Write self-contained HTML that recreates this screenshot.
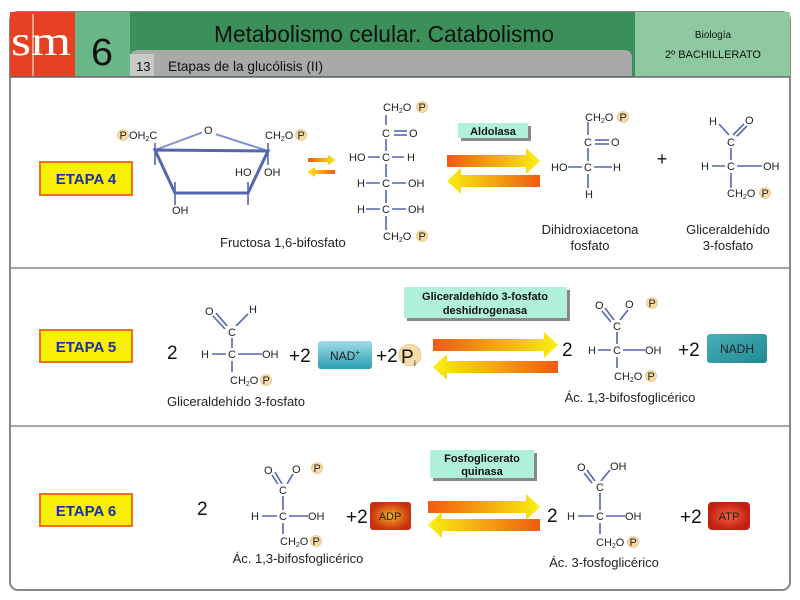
<!DOCTYPE html>
<html><head><meta charset="utf-8"><style>
html,body{margin:0;padding:0;background:#fff;}
svg{display:block;}
text{font-family:"Liberation Sans",sans-serif;}
.m{font-size:11px;fill:#222;}
.l{font-size:13px;fill:#222;}
.b{stroke:#5565b0;stroke-width:1.6;fill:none;}
.pc{fill:#f6dca8;stroke:#e0b870;stroke-width:.6;}
.n{font-size:19px;fill:#111;}
.et{font-size:15px;font-weight:bold;fill:#1a2fa8;}
.en{font-size:11px;font-weight:bold;fill:#111;}
</style></head><body>
<svg width="800" height="600" viewBox="0 0 800 600" xmlns="http://www.w3.org/2000/svg">
<defs>
<linearGradient id="ar" x1="0" x2="1"><stop offset="0" stop-color="#f05a10"/><stop offset="1" stop-color="#f8f010"/></linearGradient>
<linearGradient id="al" x1="0" x2="1"><stop offset="0" stop-color="#f8f010"/><stop offset="1" stop-color="#f05a10"/></linearGradient>
<linearGradient id="tl" x1="0" y1="0" x2="0" y2="1"><stop offset="0" stop-color="#9fdcea"/><stop offset="1" stop-color="#2b9fb0"/></linearGradient>
<linearGradient id="tl2" x1="0" y1="0" x2="1" y2="1"><stop offset="0" stop-color="#4ab0b8"/><stop offset="1" stop-color="#1e8890"/></linearGradient>
<radialGradient id="adp"><stop offset="0" stop-color="#f8b020"/><stop offset="1" stop-color="#c83010"/></radialGradient>
<radialGradient id="atp"><stop offset="0" stop-color="#f06040"/><stop offset="1" stop-color="#c02010"/></radialGradient>
</defs>
<!-- frame -->
<rect x="10" y="12" width="780" height="578" rx="8" fill="#fff" stroke="#888" stroke-width="2"/>
<rect x="10" y="12" width="780" height="65" fill="#3a9058"/>
<rect x="10" y="12" width="65" height="65" fill="#e84022"/>
<line x1="33" y1="14" x2="33" y2="76" stroke="#fff" stroke-width="1"/>
<text x="11" y="55" style="font-family:'Liberation Serif',serif;font-size:42px" fill="#fff" textLength="60" lengthAdjust="spacingAndGlyphs">sm</text>
<rect x="75" y="12" width="55" height="65" fill="#6ab88a"/>
<text x="91" y="65" style="font-size:38px" fill="#111" textLength="22" lengthAdjust="spacingAndGlyphs">6</text>
<rect x="635" y="12" width="155" height="65" fill="#8ec9a2"/>
<text x="713" y="38" text-anchor="middle" font-size="10" fill="#111">Biología</text>
<text x="713" y="58" text-anchor="middle" font-size="11" fill="#111">2º BACHILLERATO</text>
<text x="214" y="42" style="font-size:23px" fill="#111" textLength="340" lengthAdjust="spacingAndGlyphs">Metabolismo celular. Catabolismo</text>
<path d="M130,76 L130,58 Q130,50 138,50 L624,50 Q632,50 632,58 L632,76 Z" fill="#a8aaa8"/>
<rect x="130" y="54" width="24" height="22" fill="#c8cac8"/>
<text x="136" y="71" font-size="13" fill="#111">13</text>
<text x="168" y="71" style="font-size:14px" fill="#111" textLength="155" lengthAdjust="spacingAndGlyphs">Etapas de la glucólisis (II)</text>
<line x1="10" y1="77" x2="790" y2="77" stroke="#666" stroke-width="1.5"/>
<line x1="10" y1="268" x2="790" y2="268" stroke="#888" stroke-width="1.5"/>
<line x1="10" y1="426" x2="790" y2="426" stroke="#888" stroke-width="1.5"/>

<!-- ETAPA boxes -->
<rect x="40" y="162" width="92" height="33" fill="#f8f000" stroke="#f07020" stroke-width="2"/>
<text x="86" y="184" text-anchor="middle" class="et">ETAPA 4</text>
<rect x="40" y="330" width="92" height="32" fill="#f8f000" stroke="#f07020" stroke-width="2"/>
<text x="86" y="352" text-anchor="middle" class="et">ETAPA 5</text>
<rect x="40" y="494" width="92" height="32" fill="#f8f000" stroke="#f07020" stroke-width="2"/>
<text x="86" y="516" text-anchor="middle" class="et">ETAPA 6</text>

<!-- Etapa 4 furanose -->
<polygon points="155,150 206,131 268,151 248,193 175,193" fill="none" stroke="#8090d0" stroke-width="2"/>
<polygon points="155,150 175,193 248,193 268,151" fill="none" stroke="#5565b0" stroke-width="3"/>
<line x1="155" y1="143" x2="155" y2="165" class="b"/>
<line x1="268" y1="143" x2="268" y2="165" class="b"/>
<line x1="175" y1="182" x2="175" y2="205" class="b"/>
<line x1="248" y1="182" x2="248" y2="205" class="b"/>
<rect x="202" y="124" width="14" height="12" fill="#fff"/>
<text x="204" y="134" class="m">O</text>
<circle cx="123" cy="135" r="5.5" class="pc"/><text x="119.5" y="139" class="m" font-size="9">P</text>
<text x="129" y="139" class="m">OH<tspan font-size="7" dy="2">2</tspan><tspan dy="-2">C</tspan></text>
<text x="265" y="139" class="m">CH<tspan font-size="7" dy="2">2</tspan><tspan dy="-2">O</tspan></text>
<circle cx="301" cy="135" r="5.5" class="pc"/><text x="297.5" y="139" class="m" font-size="9">P</text>
<text x="235" y="176" class="m">HO</text>
<text x="264" y="176" class="m">OH</text>
<text x="172" y="214" class="m">OH</text>
<text x="220" y="247" class="l">Fructosa 1,6-bifosfato</text>
<!-- small arrows -->
<polygon points="308,158 328,158 328,155 336,160 328,165 328,162 308,162" fill="url(#ar)"/>
<polygon points="335,170 315,170 315,167 307,172 315,177 315,174 335,174" fill="url(#al)"/>
<!-- fischer -->
<g>
<line x1="386" y1="113" x2="386" y2="232" class="b"/>
<line x1="394" y1="131" x2="407" y2="131" class="b"/><line x1="394" y1="135" x2="407" y2="135" class="b"/>
<line x1="368" y1="157" x2="404" y2="157" class="b"/>
<line x1="366" y1="183" x2="406" y2="183" class="b"/>
<line x1="366" y1="209" x2="406" y2="209" class="b"/>
<rect x="380" y="125" width="12" height="14" fill="#fff"/><text x="382" y="137" class="m">C</text>
<rect x="380" y="151" width="12" height="13" fill="#fff"/><text x="382" y="161" class="m">C</text>
<rect x="380" y="177" width="12" height="13" fill="#fff"/><text x="382" y="187" class="m">C</text>
<rect x="380" y="203" width="12" height="13" fill="#fff"/><text x="382" y="213" class="m">C</text>
<rect x="380" y="101" width="32" height="14" fill="#fff"/>
<text x="383" y="111" class="m">CH<tspan font-size="7" dy="2">2</tspan><tspan dy="-2">O</tspan></text><circle cx="422" cy="107" r="5.5" class="pc"/><text x="418.5" y="111" class="m" font-size="9">P</text>
<text x="409" y="137" class="m">O</text>
<text x="349" y="161" class="m">HO</text><text x="407" y="161" class="m">H</text>
<text x="357" y="187" class="m">H</text><text x="408" y="187" class="m">OH</text>
<text x="357" y="213" class="m">H</text><text x="408" y="213" class="m">OH</text>
<rect x="380" y="230" width="32" height="14" fill="#fff"/>
<text x="383" y="240" class="m">CH<tspan font-size="7" dy="2">2</tspan><tspan dy="-2">O</tspan></text><circle cx="422" cy="236" r="5.5" class="pc"/><text x="418.5" y="240" class="m" font-size="9">P</text>
</g>
<!-- aldolasa -->
<rect x="461" y="126" width="70" height="15" fill="#888"/>
<rect x="458" y="123" width="70" height="15" fill="#b0f0dc"/>
<text x="493" y="135" text-anchor="middle" class="en">Aldolasa</text>
<polygon points="447,155 526,155 526,148 540,161 526,174 526,167 447,167" fill="url(#ar)"/>
<polygon points="540,175 461,175 461,168 447,181 461,194 461,187 540,187" fill="url(#al)"/>
<!-- DHAP -->
<line x1="588" y1="122" x2="588" y2="188" class="b"/>
<line x1="595" y1="140" x2="609" y2="140" class="b"/><line x1="595" y1="144" x2="609" y2="144" class="b"/>
<line x1="568" y1="167" x2="612" y2="167" class="b"/>
<rect x="582" y="135" width="12" height="13" fill="#fff"/><text x="584" y="146" class="m">C</text>
<rect x="582" y="161" width="12" height="13" fill="#fff"/><text x="584" y="171" class="m">C</text>
<text x="585" y="121" class="m">CH<tspan font-size="7" dy="2">2</tspan><tspan dy="-2">O</tspan></text><circle cx="623" cy="117" r="5.5" class="pc"/><text x="619.5" y="121" class="m" font-size="9">P</text>
<text x="611" y="146" class="m">O</text>
<text x="551" y="171" class="m">HO</text><text x="613" y="171" class="m">H</text>
<text x="585" y="198" class="m">H</text>
<text x="590" y="234" text-anchor="middle" class="l">Dihidroxiacetona</text>
<text x="590" y="250" text-anchor="middle" class="l">fosfato</text>
<text x="662" y="165" text-anchor="middle" font-size="18" fill="#111">+</text>
<!-- G3P -->
<line x1="719" y1="124" x2="729" y2="135" class="b" stroke-width="3"/>
<line x1="733" y1="135" x2="744" y2="124" class="b"/><line x1="736" y1="137" x2="747" y2="126" class="b"/>
<line x1="731" y1="145" x2="731" y2="188" class="b"/>
<line x1="712" y1="166" x2="762" y2="166" class="b"/>
<text x="709" y="125" class="m">H</text><text x="745" y="124" class="m">O</text>
<rect x="725" y="136" width="12" height="12" fill="#fff"/><text x="727" y="146" class="m">C</text>
<rect x="725" y="160" width="12" height="13" fill="#fff"/><text x="727" y="170" class="m">C</text>
<text x="701" y="170" class="m">H</text><text x="763" y="170" class="m">OH</text>
<text x="727" y="197" class="m">CH<tspan font-size="7" dy="2">2</tspan><tspan dy="-2">O</tspan></text><circle cx="765" cy="193" r="5.5" class="pc"/><text x="761.5" y="197" class="m" font-size="9">P</text>
<text x="728" y="234" text-anchor="middle" class="l">Gliceraldehído</text>
<text x="728" y="250" text-anchor="middle" class="l">3-fosfato</text>

<!-- ETAPA 5 -->
<text x="167" y="359" class="n">2</text>
<line x1="216" y1="313" x2="228" y2="327" class="b"/><line x1="213" y1="316" x2="225" y2="329" class="b"/>
<line x1="236" y1="326" x2="248" y2="314" class="b" stroke-width="3"/>
<line x1="232" y1="338" x2="232" y2="372" class="b"/>
<line x1="212" y1="354" x2="262" y2="354" class="b"/>
<text x="205" y="315" class="m">O</text><text x="249" y="313" class="m">H</text>
<rect x="226" y="326" width="12" height="12" fill="#fff"/><text x="228" y="336" class="m">C</text>
<rect x="226" y="348" width="12" height="13" fill="#fff"/><text x="228" y="358" class="m">C</text>
<text x="201" y="358" class="m">H</text><text x="262" y="358" class="m">OH</text>
<text x="230" y="384" class="m">CH<tspan font-size="7" dy="2">2</tspan><tspan dy="-2">O</tspan></text><circle cx="266" cy="380" r="5.5" class="pc"/><text x="262.5" y="384" class="m" font-size="9">P</text>
<text x="167" y="406" class="l">Gliceraldehído 3-fosfato</text>
<text x="289" y="362" class="n">+2</text>
<rect x="318" y="341" width="54" height="28" rx="3" fill="url(#tl)"/>
<text x="345" y="360" text-anchor="middle" font-size="12" fill="#222">NAD<tspan font-size="8" dy="-5">+</tspan></text>
<text x="376" y="362" class="n">+2</text>
<circle cx="410" cy="355" r="11" class="pc"/><text x="401" y="363" class="n">P</text><text x="414" y="366" font-size="8" fill="#111">i</text>
<rect x="407" y="290" width="163" height="31" fill="#888"/>
<rect x="404" y="287" width="163" height="31" fill="#b0f0dc"/>
<text x="485" y="300" text-anchor="middle" class="en">Gliceraldehído 3-fosfato</text>
<text x="485" y="314" text-anchor="middle" class="en">deshidrogenasa</text>
<polygon points="433,339 544,339 544,332 558,345 544,358 544,351 433,351" fill="url(#ar)"/>
<polygon points="558,361 447,361 447,354 433,367 447,380 447,373 558,373" fill="url(#al)"/>
<text x="562" y="356" class="n">2</text>
<line x1="605" y1="308" x2="614" y2="320" class="b"/><line x1="602" y1="311" x2="611" y2="322" class="b"/>
<line x1="620" y1="320" x2="628" y2="310" class="b"/>
<line x1="617" y1="332" x2="617" y2="368" class="b"/>
<line x1="598" y1="350" x2="645" y2="350" class="b"/>
<text x="595" y="309" class="m">O</text><text x="625" y="308" class="m">O</text><circle cx="652" cy="303" r="5.5" class="pc"/><text x="648.5" y="307" class="m" font-size="9">P</text>
<rect x="611" y="320" width="12" height="12" fill="#fff"/><text x="613" y="330" class="m">C</text>
<rect x="611" y="344" width="12" height="13" fill="#fff"/><text x="613" y="354" class="m">C</text>
<text x="588" y="354" class="m">H</text><text x="645" y="354" class="m">OH</text>
<text x="614" y="380" class="m">CH<tspan font-size="7" dy="2">2</tspan><tspan dy="-2">O</tspan></text><circle cx="651" cy="376" r="5.5" class="pc"/><text x="647.5" y="380" class="m" font-size="9">P</text>
<text x="630" y="402" text-anchor="middle" class="l">Ác. 1,3-bifosfoglicérico</text>
<text x="678" y="356" class="n">+2</text>
<rect x="707" y="334" width="60" height="29" rx="3" fill="url(#tl2)"/>
<text x="737" y="353" text-anchor="middle" font-size="12" fill="#222">NADH</text>

<!-- ETAPA 6 -->
<text x="197" y="515" class="n">2</text>
<line x1="275" y1="472" x2="282" y2="484" class="b"/><line x1="272" y1="475" x2="279" y2="486" class="b"/>
<line x1="287" y1="484" x2="293" y2="474" class="b"/>
<line x1="283" y1="496" x2="283" y2="534" class="b"/>
<line x1="262" y1="516" x2="308" y2="516" class="b"/>
<text x="264" y="474" class="m">O</text><text x="292" y="473" class="m">O</text><circle cx="317" cy="468" r="5.5" class="pc"/><text x="313.5" y="472" class="m" font-size="9">P</text>
<rect x="277" y="484" width="12" height="12" fill="#fff"/><text x="279" y="494" class="m">C</text>
<rect x="277" y="510" width="12" height="13" fill="#fff"/><text x="279" y="520" class="m">C</text>
<text x="251" y="520" class="m">H</text><text x="308" y="520" class="m">OH</text>
<text x="280" y="545" class="m">CH<tspan font-size="7" dy="2">2</tspan><tspan dy="-2">O</tspan></text><circle cx="316" cy="541" r="5.5" class="pc"/><text x="312.5" y="545" class="m" font-size="9">P</text>
<text x="298" y="563" text-anchor="middle" class="l">Ác. 1,3-bifosfoglicérico</text>
<rect x="370" y="502" width="41" height="28" rx="3" fill="url(#adp)"/>
<text x="390" y="520" text-anchor="middle" font-size="11" fill="#222">ADP</text>
<text x="346" y="523" class="n">+2</text>
<rect x="433" y="453" width="104" height="28" fill="#888"/>
<rect x="430" y="450" width="104" height="28" fill="#b0f0dc"/>
<text x="482" y="462" text-anchor="middle" class="en">Fosfoglicerato</text>
<text x="482" y="475" text-anchor="middle" class="en">quinasa</text>
<polygon points="428,501 526,501 526,494 540,507 526,520 526,513 428,513" fill="url(#ar)"/>
<polygon points="540,519 442,519 442,512 428,525 442,538 442,531 540,531" fill="url(#al)"/>
<text x="547" y="522" class="n">2</text>
<line x1="587" y1="470" x2="595" y2="481" class="b"/><line x1="584" y1="473" x2="592" y2="483" class="b"/>
<line x1="601" y1="481" x2="610" y2="470" class="b"/>
<line x1="600" y1="493" x2="600" y2="534" class="b"/>
<line x1="578" y1="516" x2="625" y2="516" class="b"/>
<text x="577" y="471" class="m">O</text><text x="610" y="470" class="m">OH</text>
<rect x="594" y="481" width="12" height="12" fill="#fff"/><text x="596" y="491" class="m">C</text>
<rect x="594" y="510" width="12" height="13" fill="#fff"/><text x="596" y="520" class="m">C</text>
<text x="567" y="520" class="m">H</text><text x="625" y="520" class="m">OH</text>
<text x="596" y="546" class="m">CH<tspan font-size="7" dy="2">2</tspan><tspan dy="-2">O</tspan></text><circle cx="633" cy="542" r="5.5" class="pc"/><text x="629.5" y="546" class="m" font-size="9">P</text>
<text x="604" y="567" text-anchor="middle" class="l">Ác. 3-fosfoglicérico</text>
<text x="680" y="523" class="n">+2</text>
<rect x="708" y="502" width="42" height="28" rx="4" fill="url(#atp)"/>
<text x="729" y="520" text-anchor="middle" font-size="11" fill="#222">ATP</text>
</svg>
</body></html>
